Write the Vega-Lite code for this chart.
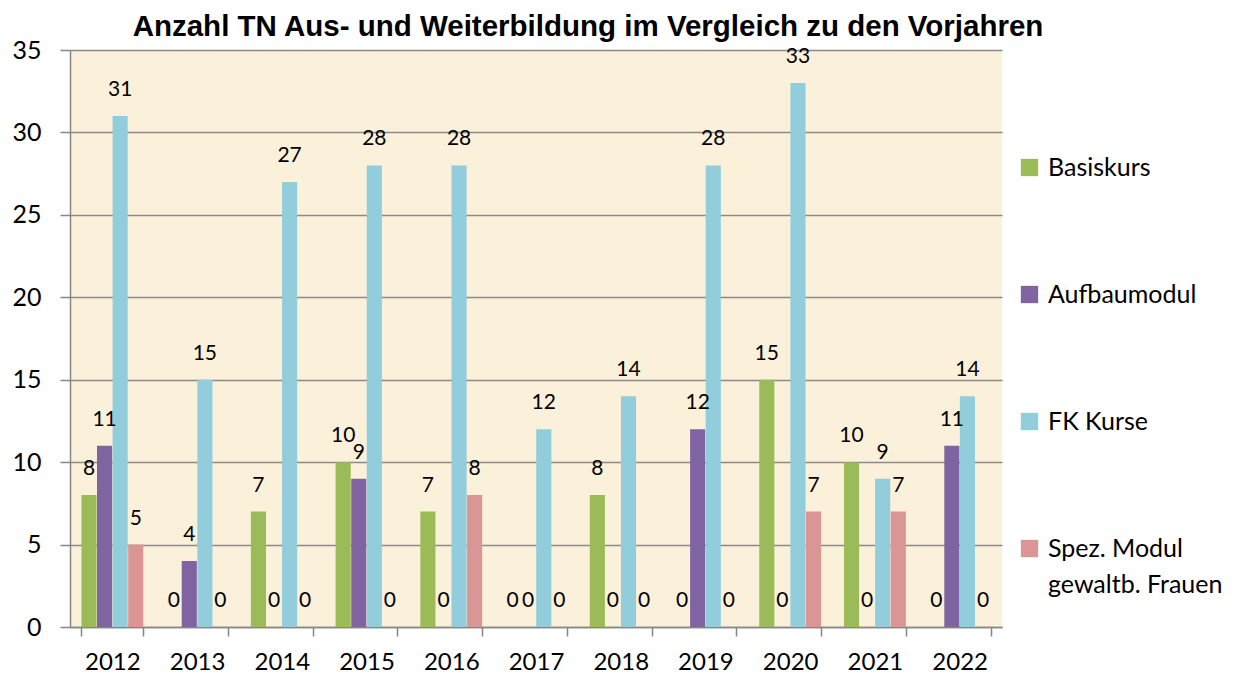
{
  "$schema": "https://vega.github.io/schema/vega-lite/v6.json",
  "autosize": {"type": "none"},
  "padding": {"left": 70, "top": 50, "right": 246, "bottom": 48},
  "width": 932,
  "height": 577,
  "background": "white",
  "title": {
    "text": "Anzahl TN Aus- und Weiterbildung im Vergleich zu den Vorjahren",
    "font": "Liberation Sans",
    "fontSize": 29.5,
    "fontWeight": "bold",
    "color": "black",
    "anchor": "middle",
    "frame": "group",
    "dx": 52,
    "dy": 4,
    "offset": 0
  },
  "data": {
    "values": [
      {"year": "2012", "series": "Basiskurs", "value": 8},
      {"year": "2012", "series": "Aufbaumodul", "value": 11},
      {"year": "2012", "series": "FK Kurse", "value": 31},
      {"year": "2012", "series": "Spez. Modul gewaltb. Frauen", "value": 5},
      {"year": "2013", "series": "Basiskurs", "value": 0},
      {"year": "2013", "series": "Aufbaumodul", "value": 4},
      {"year": "2013", "series": "FK Kurse", "value": 15},
      {"year": "2013", "series": "Spez. Modul gewaltb. Frauen", "value": 0},
      {"year": "2014", "series": "Basiskurs", "value": 7},
      {"year": "2014", "series": "Aufbaumodul", "value": 0},
      {"year": "2014", "series": "FK Kurse", "value": 27},
      {"year": "2014", "series": "Spez. Modul gewaltb. Frauen", "value": 0},
      {"year": "2015", "series": "Basiskurs", "value": 10},
      {"year": "2015", "series": "Aufbaumodul", "value": 9},
      {"year": "2015", "series": "FK Kurse", "value": 28},
      {"year": "2015", "series": "Spez. Modul gewaltb. Frauen", "value": 0},
      {"year": "2016", "series": "Basiskurs", "value": 7},
      {"year": "2016", "series": "Aufbaumodul", "value": 0},
      {"year": "2016", "series": "FK Kurse", "value": 28},
      {"year": "2016", "series": "Spez. Modul gewaltb. Frauen", "value": 8},
      {"year": "2017", "series": "Basiskurs", "value": 0},
      {"year": "2017", "series": "Aufbaumodul", "value": 0},
      {"year": "2017", "series": "FK Kurse", "value": 12},
      {"year": "2017", "series": "Spez. Modul gewaltb. Frauen", "value": 0},
      {"year": "2018", "series": "Basiskurs", "value": 8},
      {"year": "2018", "series": "Aufbaumodul", "value": 0},
      {"year": "2018", "series": "FK Kurse", "value": 14},
      {"year": "2018", "series": "Spez. Modul gewaltb. Frauen", "value": 0},
      {"year": "2019", "series": "Basiskurs", "value": 0},
      {"year": "2019", "series": "Aufbaumodul", "value": 12},
      {"year": "2019", "series": "FK Kurse", "value": 28},
      {"year": "2019", "series": "Spez. Modul gewaltb. Frauen", "value": 0},
      {"year": "2020", "series": "Basiskurs", "value": 15},
      {"year": "2020", "series": "Aufbaumodul", "value": 0},
      {"year": "2020", "series": "FK Kurse", "value": 33},
      {"year": "2020", "series": "Spez. Modul gewaltb. Frauen", "value": 7},
      {"year": "2021", "series": "Basiskurs", "value": 10},
      {"year": "2021", "series": "Aufbaumodul", "value": 0},
      {"year": "2021", "series": "FK Kurse", "value": 9},
      {"year": "2021", "series": "Spez. Modul gewaltb. Frauen", "value": 7},
      {"year": "2022", "series": "Basiskurs", "value": 0},
      {"year": "2022", "series": "Aufbaumodul", "value": 11},
      {"year": "2022", "series": "FK Kurse", "value": 14},
      {"year": "2022", "series": "Spez. Modul gewaltb. Frauen", "value": 0}
    ]
  },
  "encoding": {
    "x": {
      "field": "year",
      "type": "nominal",
      "scale": {"paddingInner": 0.27, "paddingOuter": 0.135},
      "axis": {
        "title": null,
        "labelAngle": 0,
        "labelFont": "Lato",
        "labelFontSize": 24,
        "labelColor": "black",
        "labelPadding": 14,
        "tickBand": "extent",
        "tickSize": 9,
        "tickColor": "#868686",
        "tickWidth": 1.5,
        "domainColor": "#868686",
        "domainWidth": 1.5,
        "grid": false
      }
    },
    "xOffset": {
      "field": "series",
      "type": "nominal",
      "sort": ["Basiskurs", "Aufbaumodul", "FK Kurse", "Spez. Modul gewaltb. Frauen"],
      "scale": {"paddingInner": 0.03, "paddingOuter": 0}
    },
    "y": {
      "field": "value",
      "type": "quantitative",
      "scale": {"domain": [0, 35], "nice": false},
      "axis": {
        "title": null,
        "values": [0, 5, 10, 15, 20, 25, 30, 35],
        "labelFont": "Lato",
        "labelFontSize": 25,
        "labelColor": "black",
        "labelPadding": 19,
        "tickSize": 10,
        "tickColor": "#868686",
        "tickWidth": 1.5,
        "domainColor": "#868686",
        "domainWidth": 1.5,
        "grid": true,
        "gridColor": "#8a8a8a",
        "gridWidth": 1.5
      }
    }
  },
  "layer": [
    {
      "mark": {"type": "bar"},
      "encoding": {
        "color": {
          "field": "series",
          "type": "nominal",
          "scale": {
            "domain": ["Basiskurs", "Aufbaumodul", "FK Kurse", "Spez. Modul gewaltb. Frauen"],
            "range": ["#9BBB59", "#8064A2", "#92CDDC", "#D99694"]
          },
          "legend": {
            "title": null,
            "orient": "none",
            "legendX": 947,
            "legendY": 105,
            "symbolType": "square",
            "symbolSize": 300,
            "symbolStrokeWidth": 0,
            "labelFont": "Lato",
            "labelFontSize": 25,
            "labelColor": "black",
            "labelOffset": 6,
            "labelLimit": 300,
            "rowPadding": 101,
            "labelExpr": "datum.label == 'Spez. Modul gewaltb. Frauen' ? ['Spez. Modul', 'gewaltb. Frauen'] : datum.label",
            "encode": {"labels": {"update": {"lineHeight": {"value": 36}}}}
          }
        }
      }
    },
    {
      "mark": {
        "type": "text",
        "font": "Lato",
        "fontSize": 21,
        "color": "black",
        "baseline": "middle",
        "align": "center",
        "dy": -26
      },
      "encoding": {
        "text": {"field": "value", "type": "quantitative"}
      }
    }
  ],
  "config": {
    "view": {"fill": "#FBF0DA", "stroke": null}
  }
}
